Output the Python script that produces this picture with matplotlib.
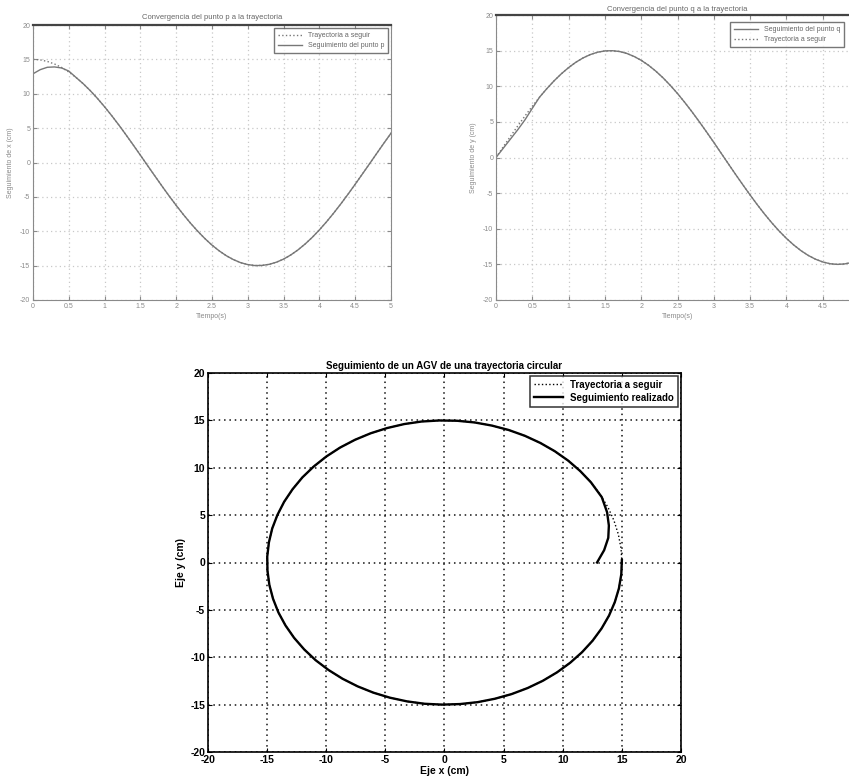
import matplotlib
matplotlib.use("Agg")
import matplotlib.pyplot as plt

t_ref = [0.0, 0.1, 0.2, 0.3, 0.4, 0.5, 0.6, 0.7, 0.8, 0.9, 1.0, 1.1, 1.2, 1.3, 1.4, 1.5,
         1.6, 1.7, 1.8, 1.9, 2.0, 2.1, 2.2, 2.3, 2.4, 2.5, 2.6, 2.7, 2.8, 2.9, 3.0, 3.1,
         3.2, 3.3, 3.4, 3.5, 3.6, 3.7, 3.8, 3.9, 4.0, 4.1, 4.2, 4.3, 4.4, 4.5, 4.6, 4.7,
         4.8, 4.9, 5.0, 5.1, 5.2, 5.3, 5.4, 5.5, 5.6, 5.7, 5.8, 5.9, 6.0, 6.1, 6.2, 6.3]
x_ref = [15.00, 14.93, 14.70, 14.33, 13.82, 13.16, 12.38, 11.47, 10.45, 9.32, 8.10, 6.80,
         5.44, 4.01, 2.55, 1.06, -0.44, -1.93, -3.41, -4.85, -6.24, -7.57, -8.83, -9.99,
         -11.06, -12.02, -12.85, -13.56, -14.13, -14.57, -14.85, -14.99, -14.97, -14.81,
         -14.50, -14.05, -13.45, -12.72, -11.86, -10.89, -9.80, -8.62, -7.35, -6.01, -4.61,
         -3.16, -1.68, -0.19, 1.31, 2.80, 4.26, 5.67, 7.03, 8.32, 9.52, 10.63, 11.63, 12.52,
         13.28, 13.91, 14.40, 14.75, 14.95, 15.00]
y_ref = [0.00, 1.50, 2.98, 4.43, 5.84, 7.19, 8.47, 9.66, 10.76, 11.75, 12.62, 13.37, 13.98,
         14.45, 14.78, 14.96, 14.99, 14.88, 14.61, 14.19, 13.64, 12.95, 12.13, 11.19, 10.13,
         8.98, 7.73, 6.41, 5.02, 3.59, 2.12, 0.62, -0.88, -2.37, -3.83, -5.26, -6.64, -7.95,
         -9.18, -10.32, -11.35, -12.27, -13.07, -13.74, -14.27, -14.66, -14.91, -15.00,
         -14.94, -14.74, -14.38, -13.89, -13.25, -12.48, -11.59, -10.58, -9.47, -8.26,
         -6.97, -5.61, -4.19, -2.73, -1.25, 0.25]

# Tracked point: starts at (12.9, 0) inside the circle and joins it after ~0.5 s
x_start = [12.9, 13.5, 13.85, 13.9, 13.75, 13.3]
y_start = [0.0, 1.3, 2.6, 3.9, 5.3, 6.9]
t_trk = t_ref
x_trk = x_start + x_ref[len(x_start):]
y_trk = y_start + y_ref[len(y_start):]

t_ticks = [0, 0.5, 1, 1.5, 2, 2.5, 3, 3.5, 4, 4.5, 5]
t_labels = ['0', '0.5', '1', '1.5', '2', '2.5', '3', '3.5', '4', '4.5', '5']
v_ticks = [-20, -15, -10, -5, 0, 5, 10, 15, 20]

W, H = 849, 778
plt.rcParams['font.family'] = ['Liberation Sans', 'DejaVu Sans']
plt.rcParams['axes.unicode_minus'] = False
fig = plt.figure(figsize=(W / 100, H / 100), dpi=100)

def box(l, t, r, b):
    return [l / W, 1 - b / H, (r - l) / W, (b - t) / H]

def matlab_axes(ax, col, fs, gridcol, gridlw=0.9):
    ax.tick_params(direction='in', top=True, right=True, length=3, colors=col,
                   labelsize=fs, pad=2)
    for s in ax.spines.values():
        s.set_color(col)
    ax.grid(True, linestyle=(0, (1, 2.5)), color=gridcol, linewidth=gridlw)

faint = '#8a8a8a'
line_grey = '#777777'

# Top left: x convergence
ax1 = fig.add_axes(box(33, 25, 391, 300))
ax1.plot(t_ref, x_ref, ':', color=line_grey, lw=1, label='Trayectoria a seguir')
ax1.plot(t_trk, x_trk, '-', color=line_grey, lw=1, label='Seguimiento del punto p')
ax1.set_xlim(0, 5)
ax1.set_ylim(-20, 20)
ax1.set_xticks(t_ticks, t_labels)
ax1.set_yticks(v_ticks)
matlab_axes(ax1, faint, 5, '#c8c8c8')
ax1.spines['top'].set_color('#444444')
ax1.spines['top'].set_linewidth(1.6)
ax1.set_title('Convergencia del punto p a la trayectoria', fontsize=5.5, color='#666666', pad=4)
ax1.set_xlabel('Tiempo(s)', fontsize=5, color=faint, labelpad=2)
ax1.set_ylabel('Seguimiento de x (cm)', fontsize=5, color=faint, labelpad=4)
leg1 = ax1.legend(loc='upper right', fontsize=5, frameon=True, fancybox=False,
                  edgecolor='#555555', handlelength=3.5, borderpad=0.5)
for txt in leg1.get_texts():
    txt.set_color('#666666')

# Top right: y convergence (right edge runs past the page)
ax2 = fig.add_axes(box(496, 15, 859, 300))
ax2.plot(t_trk, y_trk, '-', color=line_grey, lw=1, label='Seguimiento del punto q')
ax2.plot(t_ref, y_ref, ':', color=line_grey, lw=1, label='Trayectoria a seguir')
ax2.set_xlim(0, 5)
ax2.set_ylim(-20, 20)
ax2.set_xticks(t_ticks[:-1], t_labels[:-1])
ax2.set_yticks(v_ticks)
matlab_axes(ax2, faint, 5, '#c8c8c8')
ax2.spines['top'].set_color('#444444')
ax2.spines['top'].set_linewidth(1.6)
ax2.set_title('Convergencia del punto q a la trayectoria', fontsize=5.5, color='#666666', pad=3)
ax2.set_xlabel('Tiempo(s)', fontsize=5, color=faint, labelpad=2)
ax2.set_ylabel('Seguimiento de y (cm)', fontsize=5, color=faint, labelpad=4)
leg2 = ax2.legend(loc='upper right', bbox_to_anchor=(847 / W, 1 - 19 / H),
                  bbox_transform=fig.transFigure, fontsize=5, frameon=True,
                  fancybox=False, edgecolor='#555555', handlelength=3.5, borderpad=0.5)
for txt in leg2.get_texts():
    txt.set_color('#666666')

# Bottom: trajectory in the plane
ax3 = fig.add_axes(box(208, 373, 681, 752))
ax3.plot(x_ref, y_ref, ':', color='black', lw=1, label='Trayectoria a seguir')
ax3.plot(x_trk, y_trk, '-', color='black', lw=1.7, label='Seguimiento realizado')
ax3.set_xlim(-20, 20)
ax3.set_ylim(-20, 20)
ax3.set_xticks(v_ticks)
ax3.set_yticks(v_ticks)
matlab_axes(ax3, 'black', 7.5, '#111111', gridlw=1.1)
for lab in ax3.get_xticklabels() + ax3.get_yticklabels():
    lab.set_fontweight('bold')
for s in ax3.spines.values():
    s.set_linewidth(1.2)
ax3.set_title('Seguimiento de un AGV de una trayectoria circular', fontsize=7,
              fontweight='bold', pad=3)
ax3.set_xlabel('Eje x (cm)', fontsize=7.5, fontweight='bold', labelpad=1)
ax3.set_ylabel('Eje y (cm)', fontsize=7.5, fontweight='bold', labelpad=3)
leg3 = ax3.legend(loc='upper right', frameon=True, fancybox=False,
                  edgecolor='black', handlelength=3.0, borderpad=0.4,
                  borderaxespad=0.3, labelspacing=0.3,
                  prop={'weight': 'bold', 'size': 7})
leg3.get_frame().set_linewidth(1.1)

fig.savefig('out.png', dpi=100)
